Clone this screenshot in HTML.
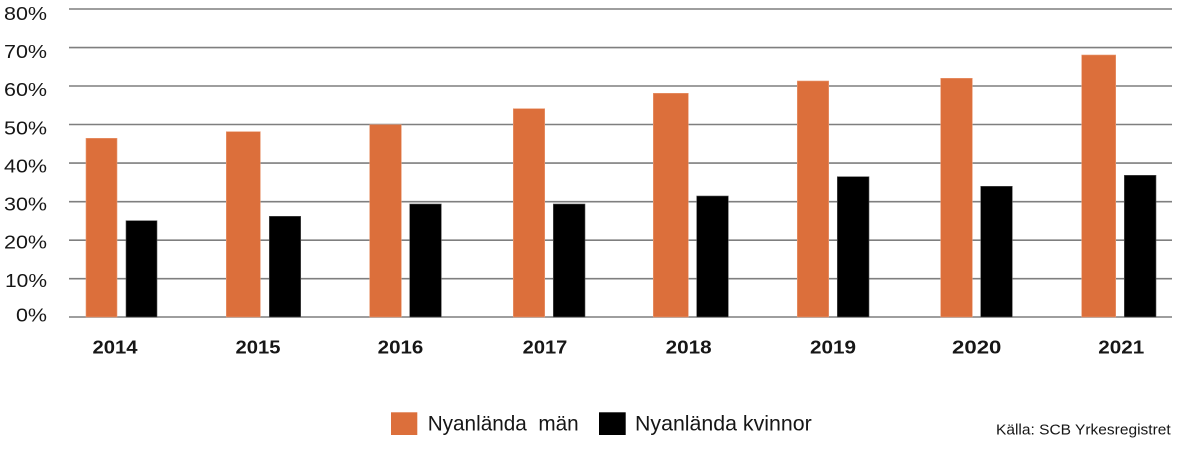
<!DOCTYPE html>
<html>
<head>
<meta charset="utf-8">
<style>
html,body{margin:0;padding:0;background:#fff;}
svg{display:block;}
text{font-family:"Liberation Sans",sans-serif;fill:#161616;}
</style>
</head>
<body>
<svg width="1180" height="450" viewBox="0 0 1180 450" xmlns="http://www.w3.org/2000/svg">
<rect width="1180" height="450" fill="#fff"/>
<!-- gridlines -->
<g stroke="#7f7f7f" stroke-width="1.6">
<line x1="69" x2="1172" y1="9" y2="9"/>
<line x1="69" x2="1172" y1="47.6" y2="47.6"/>
<line x1="69" x2="1172" y1="86" y2="86"/>
<line x1="69" x2="1172" y1="124.5" y2="124.5"/>
<line x1="69" x2="1172" y1="163.1" y2="163.1"/>
<line x1="69" x2="1172" y1="201.7" y2="201.7"/>
<line x1="69" x2="1172" y1="240.2" y2="240.2"/>
<line x1="69" x2="1172" y1="278.7" y2="278.7"/>
<line x1="69" x2="1172" y1="317" y2="317"/>
</g>
<!-- y labels -->
<g font-size="18" text-anchor="end">
<text x="47" y="20" textLength="43" lengthAdjust="spacingAndGlyphs">80%</text>
<text x="47" y="58" textLength="43" lengthAdjust="spacingAndGlyphs">70%</text>
<text x="47" y="96" textLength="43" lengthAdjust="spacingAndGlyphs">60%</text>
<text x="47" y="134.5" textLength="43" lengthAdjust="spacingAndGlyphs">50%</text>
<text x="47" y="172.7" textLength="43" lengthAdjust="spacingAndGlyphs">40%</text>
<text x="47" y="210.5" textLength="43" lengthAdjust="spacingAndGlyphs">30%</text>
<text x="47" y="248.7" textLength="43" lengthAdjust="spacingAndGlyphs">20%</text>
<text x="47" y="287" textLength="42" lengthAdjust="spacingAndGlyphs">10%</text>
<text x="47" y="321.5" textLength="31" lengthAdjust="spacingAndGlyphs">0%</text>
</g>
<!-- orange bars -->
<g fill="#dc6f3b" stroke="#e99a73" stroke-width="0.6">
<rect x="86" y="138.3" width="31" height="178.7"/>
<rect x="226.3" y="131.7" width="34" height="185.3"/>
<rect x="369.7" y="124.7" width="31.6" height="192.3"/>
<rect x="513.3" y="108.7" width="31.4" height="208.3"/>
<rect x="653.3" y="93.3" width="35" height="223.7"/>
<rect x="797.3" y="81" width="31.4" height="236"/>
<rect x="940.7" y="78.3" width="31.6" height="238.7"/>
<rect x="1081.7" y="55" width="34" height="262"/>
</g>
<!-- black bars -->
<g fill="#000" stroke="#555" stroke-width="0.6">
<rect x="126" y="220.7" width="31" height="96.3"/>
<rect x="269.3" y="216.3" width="31.4" height="100.7"/>
<rect x="409.7" y="204" width="31.6" height="113"/>
<rect x="553.3" y="204" width="31.7" height="113"/>
<rect x="696.7" y="196" width="31.6" height="121"/>
<rect x="837.3" y="176.7" width="31.7" height="140.3"/>
<rect x="980.7" y="186.3" width="31.6" height="130.7"/>
<rect x="1124.3" y="175.3" width="31.7" height="141.7"/>
</g>
<!-- x labels -->
<g font-size="18" font-weight="bold" text-anchor="middle">
<text x="115" y="353.3" textLength="45" lengthAdjust="spacingAndGlyphs">2014</text>
<text x="258" y="353.3" textLength="45" lengthAdjust="spacingAndGlyphs">2015</text>
<text x="400.5" y="353.3" textLength="45.6" lengthAdjust="spacingAndGlyphs">2016</text>
<text x="545" y="353.3" textLength="44.6" lengthAdjust="spacingAndGlyphs">2017</text>
<text x="688.7" y="353.3" textLength="46" lengthAdjust="spacingAndGlyphs">2018</text>
<text x="833" y="353.3" textLength="46" lengthAdjust="spacingAndGlyphs">2019</text>
<text x="976.7" y="353.3" textLength="49.3" lengthAdjust="spacingAndGlyphs">2020</text>
<text x="1121.3" y="353.3" textLength="46" lengthAdjust="spacingAndGlyphs">2021</text>
</g>
<!-- legend -->
<rect x="391" y="412.3" width="26.3" height="22.7" fill="#dc6f3b"/>
<text x="427.7" y="430.7" font-size="21" textLength="151" lengthAdjust="spacingAndGlyphs" xml:space="preserve">Nyanlända  män</text>
<rect x="599" y="412.3" width="26.7" height="22.7" fill="#000"/>
<text x="635" y="430.7" font-size="21" textLength="176.7" lengthAdjust="spacingAndGlyphs">Nyanlända kvinnor</text>
<text x="996" y="434.3" font-size="14.5" textLength="174.7" lengthAdjust="spacingAndGlyphs">Källa: SCB Yrkesregistret</text>
</svg>
</body>
</html>
